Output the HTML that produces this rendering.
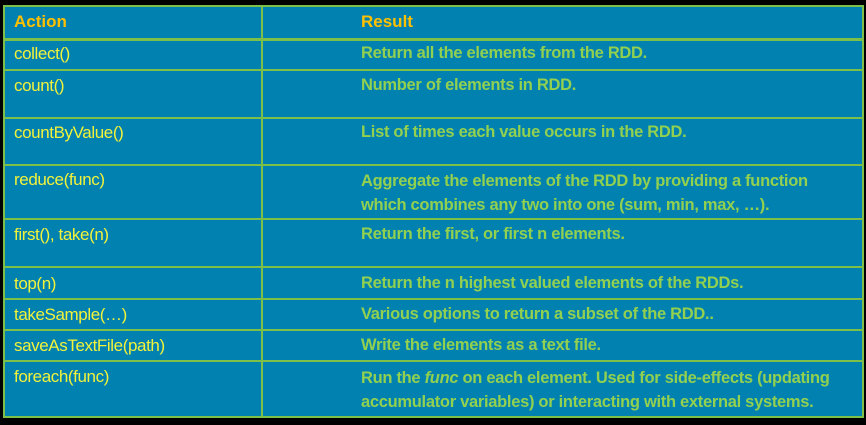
<!DOCTYPE html>
<html><head><meta charset="utf-8"><style>
body{margin:0;width:866px;height:425px;background:#000;position:relative;overflow:hidden;font-family:"Liberation Sans",sans-serif;}
.t{position:absolute;left:3px;top:5px;width:857px;height:409px;background:#0081b0;border:2px solid #7cc04a;}
.h{position:absolute;left:0;width:857px;height:2px;background:#7cc04a;}
.v{position:absolute;left:256px;top:0;width:2px;height:409px;background:#7cc04a;}
.a,.r,.hd{position:absolute;line-height:21px;white-space:nowrap;}
.a{left:9px;color:#f2f23a;font-size:17px;letter-spacing:-0.4px;}
.r{left:356px;color:#92d050;font-weight:bold;font-size:16.5px;letter-spacing:-0.3px;}
.hd{color:#ffc000;font-weight:bold;font-size:17px;}
</style></head><body>
<div class="t">
<div class="v"></div>
<div class="h" style="top:31px;height:3px"></div>
<div class="h" style="top:62px"></div>
<div class="h" style="top:110px"></div>
<div class="h" style="top:157px"></div>
<div class="h" style="top:211px"></div>
<div class="h" style="top:259px"></div>
<div class="h" style="top:291px"></div>
<div class="h" style="top:322px"></div>
<div class="h" style="top:353px"></div>
<div class="hd" style="left:9px;top:4px">Action</div>
<div class="hd" style="left:356px;top:4px">Result</div>
<div class="a" style="top:36px">collect()</div><div class="r" style="top:36px">Return all the elements from the RDD.</div>
<div class="a" style="top:68px">count()</div><div class="r" style="top:68px">Number of elements in RDD.</div>
<div class="a" style="top:115px">countByValue()</div><div class="r" style="top:115px">List of times each value occurs in the RDD.</div>
<div class="a" style="top:162px">reduce(func)</div><div class="r" style="top:162px;line-height:24px">Aggregate the elements of the RDD by providing a function<br>which combines any two into one (sum, min, max, …).</div>
<div class="a" style="top:217px">first(), take(n)</div><div class="r" style="top:217px">Return the first, or first n elements.</div>
<div class="a" style="top:266px">top(n)</div><div class="r" style="top:266px">Return the n highest valued elements of the RDDs.</div>
<div class="a" style="top:297px">takeSample(…)</div><div class="r" style="top:297px">Various options to return a subset of the RDD..</div>
<div class="a" style="top:328px">saveAsTextFile(path)</div><div class="r" style="top:328px">Write the elements as a text file.</div>
<div class="a" style="top:359px">foreach(func)</div><div class="r" style="top:359px;line-height:24px">Run the <i>func</i> on each element.  Used for side-effects (updating<br>accumulator variables) or interacting with external systems.</div>
</div>
</body></html>
